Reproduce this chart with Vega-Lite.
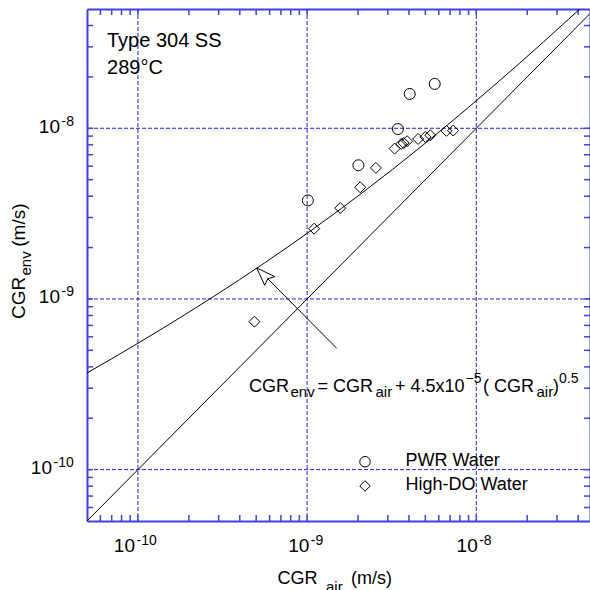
{
  "$schema": "https://vega.github.io/schema/vega-lite/v6.json",
  "width": 503,
  "height": 512,
  "autosize": {"type": "none"},
  "padding": {"left": 87, "top": 9, "right": 0, "bottom": 69},
  "background": "white",
  "config": {"view": {"stroke": null}, "font": "Liberation Sans", "text": {"font": "Liberation Sans", "color": "black"}},
  "datasets": {
    "gx": [{"v": 1e-10}, {"v": 1e-9}, {"v": 1e-8}],
    "tv": [{"v": 6e-11}, {"v": 7e-11}, {"v": 8e-11}, {"v": 9e-11}, {"v": 1e-10}, {"v": 2e-10}, {"v": 3e-10}, {"v": 4e-10}, {"v": 5e-10}, {"v": 6e-10}, {"v": 7e-10}, {"v": 8e-10}, {"v": 9e-10}, {"v": 1e-9}, {"v": 2e-9}, {"v": 3e-9}, {"v": 4e-9}, {"v": 5e-9}, {"v": 6e-9}, {"v": 7e-9}, {"v": 8e-9}, {"v": 9e-9}, {"v": 1e-8}, {"v": 2e-8}, {"v": 3e-8}, {"v": 4e-8}],
    "diag": [{"air": 5e-11, "env": 5e-11}, {"air": 5e-8, "env": 5e-8}],
    "curve": [
      {"air": 5e-11, "env": 3.682e-10}, {"air": 7e-11, "env": 4.465e-10}, {"air": 1e-10, "env": 5.5e-10},
      {"air": 1.4e-10, "env": 6.7245e-10}, {"air": 2e-10, "env": 8.364e-10}, {"air": 2.8e-10, "env": 1.033e-9},
      {"air": 4e-10, "env": 1.3e-9}, {"air": 5.6e-10, "env": 1.6249e-9}, {"air": 8e-10, "env": 2.0728e-9},
      {"air": 1.1e-9, "env": 2.5925e-9}, {"air": 1.6e-9, "env": 3.4e-9}, {"air": 2.2e-9, "env": 4.3107e-9},
      {"air": 3.2e-9, "env": 5.7456e-9}, {"air": 4.5e-9, "env": 7.5187e-9}, {"air": 6.3e-9, "env": 9.8718e-9},
      {"air": 9e-9, "env": 1.32691e-8}, {"air": 1.25e-8, "env": 1.75312e-8}, {"air": 1.8e-8, "env": 2.40374e-8},
      {"air": 2.5e-8, "env": 3.21151e-8}, {"air": 3.5e-8, "env": 4.34188e-8}, {"air": 4.1e-8, "env": 5.0112e-8}
    ],
    "pts": [
      {"air": 1.01e-9, "env": 3.78e-9, "series": "PWR Water"},
      {"air": 2.01e-9, "env": 6.07e-9, "series": "PWR Water"},
      {"air": 3.44e-9, "env": 9.9e-9, "series": "PWR Water"},
      {"air": 4.04e-9, "env": 1.59e-8, "series": "PWR Water"},
      {"air": 5.68e-9, "env": 1.82e-8, "series": "PWR Water"},
      {"air": 4.88e-10, "env": 7.36e-10, "series": "High-DO Water"},
      {"air": 1.1e-9, "env": 2.58e-9, "series": "High-DO Water"},
      {"air": 1.57e-9, "env": 3.41e-9, "series": "High-DO Water"},
      {"air": 2.06e-9, "env": 4.51e-9, "series": "High-DO Water"},
      {"air": 2.55e-9, "env": 5.86e-9, "series": "High-DO Water"},
      {"air": 3.29e-9, "env": 7.6e-9, "series": "High-DO Water"},
      {"air": 3.6e-9, "env": 8.1e-9, "series": "High-DO Water"},
      {"air": 3.72e-9, "env": 8.2e-9, "series": "High-DO Water"},
      {"air": 3.9e-9, "env": 8.4e-9, "series": "High-DO Water"},
      {"air": 4.53e-9, "env": 8.66e-9, "series": "High-DO Water"},
      {"air": 5.0e-9, "env": 8.9e-9, "series": "High-DO Water"},
      {"air": 5.35e-9, "env": 9.1e-9, "series": "High-DO Water"},
      {"air": 6.66e-9, "env": 9.66e-9, "series": "High-DO Water"},
      {"air": 7.3e-9, "env": 9.7e-9, "series": "High-DO Water"}
    ],
    "legendSym": [
      {"air": 2.199e-9, "env": 1.113e-10, "series": "PWR Water"},
      {"air": 2.199e-9, "env": 8.02e-11, "series": "High-DO Water"}
    ],
    "arrow": [
      {"part": "shaft", "i": 0, "air": 1.496e-9, "env": 5.14e-10},
      {"part": "shaft", "i": 1, "air": 5.849e-10, "env": 1.3145e-9},
      {"part": "head", "i": 0, "air": 5.036e-10, "env": 1.52e-9},
      {"part": "head", "i": 1, "air": 5.616e-10, "env": 1.2023e-9},
      {"part": "head", "i": 2, "air": 5.849e-10, "env": 1.3145e-9},
      {"part": "head", "i": 3, "air": 6.458e-10, "env": 1.3505e-9},
      {"part": "head", "i": 4, "air": 5.036e-10, "env": 1.52e-9}
    ],
    "main18": [
      {"air": 4.534e-10, "env": 2.862e-10, "t": "CGR"},
      {"air": 1.1518e-9, "env": 2.862e-10, "t": "= CGR"},
      {"air": 3.308e-9, "env": 2.862e-10, "t": "+ 4.5x10"},
      {"air": 1.0958e-8, "env": 2.862e-10, "t": "( CGR"},
      {"air": 2.84e-8, "env": 2.862e-10, "t": ")"},
      {"air": 6.683e-10, "env": 2.137e-11, "t": "CGR"},
      {"air": 1.817e-9, "env": 2.137e-11, "t": "(m/s)"},
      {"air": 3.816e-9, "env": 1.0503e-10, "t": "PWR Water"},
      {"air": 3.816e-9, "env": 7.6e-11, "t": "High-DO Water"}
    ],
    "sub15": [
      {"air": 7.976e-10, "env": 2.675e-10, "t": "env"},
      {"air": 2.536e-9, "env": 2.675e-10, "t": "air"},
      {"air": 2.269e-8, "env": 2.675e-10, "t": "air"},
      {"air": 1.293e-9, "env": 1.918e-11, "t": "air"}
    ],
    "sup14": [
      {"air": 8.634e-9, "env": 3.197e-10, "t": "−5"},
      {"air": 3.083e-8, "env": 3.197e-10, "t": "0.5"}
    ],
    "ticklab": [
      {"air": 9.61e-11, "env": 3.279e-11, "e": "-10"},
      {"air": 1.0303e-9, "env": 3.279e-11, "e": "-9"},
      {"air": 1.0194e-8, "env": 3.279e-11, "e": "-8"},
      {"air": 3.462e-11, "env": 9.41e-9, "e": "-8"},
      {"air": 3.462e-11, "env": 9.41e-10, "e": "-9"},
      {"air": 3.104e-11, "env": 9.41e-11, "e": "-10"}
    ],
    "ytitle": [
      {"air": 2.15e-11, "env": 7.632e-10, "t": "CGR"},
      {"air": 2.15e-11, "env": 2.0237e-9, "t": "(m/s)"}
    ],
    "ytitleSub": [{"air": 2.349e-11, "env": 1.3726e-9, "t": "env"}],
    "anno": [
      {"air": 6.565e-11, "env": 2.982e-8, "t": "Type 304 SS"},
      {"air": 6.565e-11, "env": 2.08e-8, "t": "289°C"}
    ]
  },
  "layer": [
    {
      "data": {"name": "gx"},
      "mark": {"type": "rule", "color": "#2323dd", "strokeDash": [4, 2], "strokeWidth": 1},
      "encoding": {
        "x": {"field": "v", "type": "quantitative", "scale": {"type": "log", "domain": [5e-11, 4.7e-8], "nice": false},
          "axis": {"orient": "bottom", "labels": false, "title": null, "grid": false, "ticks": false, "domainColor": "#4040e0", "domainWidth": 2}}
      }
    },
    {
      "data": {"name": "gx"},
      "mark": {"type": "rule", "color": "#2323dd", "strokeDash": [4, 2], "strokeWidth": 1},
      "encoding": {
        "y": {"field": "v", "type": "quantitative", "scale": {"type": "log", "domain": [5e-11, 5e-8], "nice": false},
          "axis": {"orient": "left", "labels": false, "title": null, "grid": false, "ticks": false, "domainColor": "#4040e0", "domainWidth": 2}}
      }
    },
    {
      "data": {"name": "diag"},
      "mark": {"type": "line", "color": "black", "strokeWidth": 1, "clip": true},
      "encoding": {
        "x": {"field": "air", "type": "quantitative", "scale": {"type": "log", "domain": [5e-11, 4.7e-8], "nice": false},
          "axis": {"orient": "top", "labels": false, "title": null, "grid": false, "ticks": false, "domainColor": "#4040e0", "domainWidth": 2}},
        "y": {"field": "env", "type": "quantitative", "scale": {"type": "log", "domain": [5e-11, 5e-8], "nice": false},
          "axis": {"orient": "right", "labels": false, "title": null, "grid": false, "ticks": false, "domainColor": "#4040e0", "domainWidth": 2}}
      }
    },
    {
      "data": {"name": "tv"},
      "mark": {"type": "rule", "color": "#4040e0", "strokeWidth": 1.5},
      "encoding": {
        "x": {"field": "v", "type": "quantitative", "scale": {"type": "log", "domain": [5e-11, 4.7e-8], "nice": false}, "axis": null},
        "y": {"datum": 5e-11, "type": "quantitative", "scale": {"type": "log", "domain": [5e-11, 5e-8], "nice": false}, "axis": null},
        "y2": {"datum": 5.42e-11}
      }
    },
    {
      "data": {"name": "tv"},
      "mark": {"type": "rule", "color": "#4040e0", "strokeWidth": 1.5},
      "encoding": {
        "x": {"field": "v", "type": "quantitative", "scale": {"type": "log", "domain": [5e-11, 4.7e-8], "nice": false}, "axis": null},
        "y": {"datum": 5e-8, "type": "quantitative", "scale": {"type": "log", "domain": [5e-11, 5e-8], "nice": false}, "axis": null},
        "y2": {"datum": 4.611e-8}
      }
    },
    {
      "data": {"name": "tv"},
      "mark": {"type": "rule", "color": "#4040e0", "strokeWidth": 1.5},
      "encoding": {
        "y": {"field": "v", "type": "quantitative", "scale": {"type": "log", "domain": [5e-11, 5e-8], "nice": false}, "axis": null},
        "x": {"datum": 5e-11, "type": "quantitative", "scale": {"type": "log", "domain": [5e-11, 4.7e-8], "nice": false}, "axis": null},
        "x2": {"datum": 5.426e-11}
      }
    },
    {
      "data": {"name": "tv"},
      "mark": {"type": "rule", "color": "#4040e0", "strokeWidth": 1.5},
      "encoding": {
        "y": {"field": "v", "type": "quantitative", "scale": {"type": "log", "domain": [5e-11, 5e-8], "nice": false}, "axis": null},
        "x": {"datum": 4.7e-8, "type": "quantitative", "scale": {"type": "log", "domain": [5e-11, 4.7e-8], "nice": false}, "axis": null},
        "x2": {"datum": 4.331e-8}
      }
    },
    {
      "data": {"name": "curve"},
      "mark": {"type": "line", "color": "black", "strokeWidth": 1, "clip": true},
      "encoding": {
        "x": {"field": "air", "type": "quantitative", "scale": {"type": "log", "domain": [5e-11, 4.7e-8], "nice": false}, "axis": null},
        "y": {"field": "env", "type": "quantitative", "scale": {"type": "log", "domain": [5e-11, 5e-8], "nice": false}, "axis": null}
      }
    },
    {
      "data": {"name": "arrow"},
      "mark": {"type": "line", "color": "black", "strokeWidth": 1},
      "encoding": {
        "x": {"field": "air", "type": "quantitative", "scale": {"type": "log", "domain": [5e-11, 4.7e-8], "nice": false}, "axis": null},
        "y": {"field": "env", "type": "quantitative", "scale": {"type": "log", "domain": [5e-11, 5e-8], "nice": false}, "axis": null},
        "detail": {"field": "part"},
        "order": {"field": "i", "type": "quantitative"}
      }
    },
    {
      "data": {"name": "pts"},
      "mark": {"type": "point", "filled": false, "color": "black", "strokeWidth": 1, "opacity": 1, "size": 121},
      "encoding": {
        "x": {"field": "air", "type": "quantitative", "scale": {"type": "log", "domain": [5e-11, 4.7e-8], "nice": false}, "axis": null},
        "y": {"field": "env", "type": "quantitative", "scale": {"type": "log", "domain": [5e-11, 5e-8], "nice": false}, "axis": null},
        "shape": {"field": "series", "type": "nominal", "scale": {"domain": ["PWR Water", "High-DO Water"], "range": ["circle", "diamond"]}, "legend": null}
      }
    },
    {
      "data": {"name": "legendSym"},
      "mark": {"type": "point", "filled": false, "color": "black", "strokeWidth": 1, "opacity": 1, "size": 110},
      "encoding": {
        "x": {"field": "air", "type": "quantitative", "scale": {"type": "log", "domain": [5e-11, 4.7e-8], "nice": false}, "axis": null},
        "y": {"field": "env", "type": "quantitative", "scale": {"type": "log", "domain": [5e-11, 5e-8], "nice": false}, "axis": null},
        "shape": {"field": "series", "type": "nominal", "scale": {"domain": ["PWR Water", "High-DO Water"], "range": ["circle", "diamond"]}, "legend": null}
      }
    },
    {
      "data": {"name": "main18"},
      "mark": {"type": "text", "fontSize": 18, "align": "left", "baseline": "alphabetic", "color": "black"},
      "encoding": {
        "x": {"field": "air", "type": "quantitative", "scale": {"type": "log", "domain": [5e-11, 4.7e-8], "nice": false}, "axis": null},
        "y": {"field": "env", "type": "quantitative", "scale": {"type": "log", "domain": [5e-11, 5e-8], "nice": false}, "axis": null},
        "text": {"field": "t"}
      }
    },
    {
      "data": {"name": "sub15"},
      "mark": {"type": "text", "fontSize": 15, "align": "left", "baseline": "alphabetic", "color": "black"},
      "encoding": {
        "x": {"field": "air", "type": "quantitative", "scale": {"type": "log", "domain": [5e-11, 4.7e-8], "nice": false}, "axis": null},
        "y": {"field": "env", "type": "quantitative", "scale": {"type": "log", "domain": [5e-11, 5e-8], "nice": false}, "axis": null},
        "text": {"field": "t"}
      }
    },
    {
      "data": {"name": "sup14"},
      "mark": {"type": "text", "fontSize": 14, "align": "left", "baseline": "alphabetic", "color": "black"},
      "encoding": {
        "x": {"field": "air", "type": "quantitative", "scale": {"type": "log", "domain": [5e-11, 4.7e-8], "nice": false}, "axis": null},
        "y": {"field": "env", "type": "quantitative", "scale": {"type": "log", "domain": [5e-11, 5e-8], "nice": false}, "axis": null},
        "text": {"field": "t"}
      }
    },
    {
      "data": {"name": "ticklab"},
      "mark": {"type": "text", "fontSize": 19, "align": "right", "baseline": "alphabetic", "color": "black", "text": "10"},
      "encoding": {
        "x": {"field": "air", "type": "quantitative", "scale": {"type": "log", "domain": [5e-11, 4.7e-8], "nice": false}, "axis": null},
        "y": {"field": "env", "type": "quantitative", "scale": {"type": "log", "domain": [5e-11, 5e-8], "nice": false}, "axis": null}
      }
    },
    {
      "data": {"name": "ticklab"},
      "mark": {"type": "text", "fontSize": 14, "align": "left", "baseline": "alphabetic", "color": "black", "dx": 1.5, "dy": -7},
      "encoding": {
        "x": {"field": "air", "type": "quantitative", "scale": {"type": "log", "domain": [5e-11, 4.7e-8], "nice": false}, "axis": null},
        "y": {"field": "env", "type": "quantitative", "scale": {"type": "log", "domain": [5e-11, 5e-8], "nice": false}, "axis": null},
        "text": {"field": "e"}
      }
    },
    {
      "data": {"name": "ytitle"},
      "mark": {"type": "text", "fontSize": 19, "align": "left", "baseline": "alphabetic", "angle": 270, "color": "black"},
      "encoding": {
        "x": {"field": "air", "type": "quantitative", "scale": {"type": "log", "domain": [5e-11, 4.7e-8], "nice": false}, "axis": null},
        "y": {"field": "env", "type": "quantitative", "scale": {"type": "log", "domain": [5e-11, 5e-8], "nice": false}, "axis": null},
        "text": {"field": "t"}
      }
    },
    {
      "data": {"name": "ytitleSub"},
      "mark": {"type": "text", "fontSize": 15, "align": "left", "baseline": "alphabetic", "angle": 270, "color": "black"},
      "encoding": {
        "x": {"field": "air", "type": "quantitative", "scale": {"type": "log", "domain": [5e-11, 4.7e-8], "nice": false}, "axis": null},
        "y": {"field": "env", "type": "quantitative", "scale": {"type": "log", "domain": [5e-11, 5e-8], "nice": false}, "axis": null},
        "text": {"field": "t"}
      }
    },
    {
      "data": {"name": "anno"},
      "mark": {"type": "text", "fontSize": 20, "align": "left", "baseline": "alphabetic", "color": "black"},
      "encoding": {
        "x": {"field": "air", "type": "quantitative", "scale": {"type": "log", "domain": [5e-11, 4.7e-8], "nice": false}, "axis": null},
        "y": {"field": "env", "type": "quantitative", "scale": {"type": "log", "domain": [5e-11, 5e-8], "nice": false}, "axis": null},
        "text": {"field": "t"}
      }
    }
  ],
  "resolve": {"axis": {"x": "independent", "y": "independent"}}
}
